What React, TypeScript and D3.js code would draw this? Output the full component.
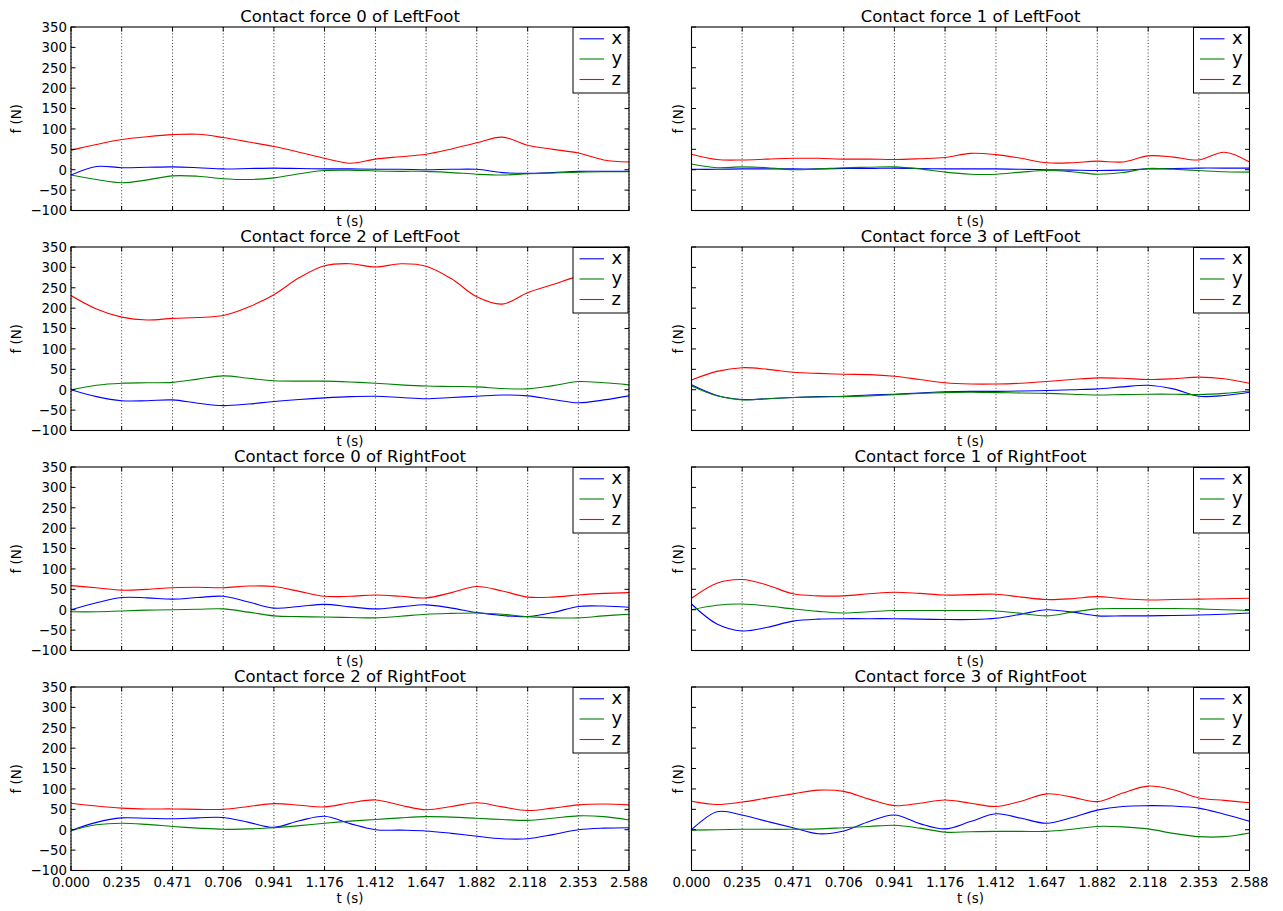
import React from 'react';
import * as d3 from 'd3';

// ---------------- data ----------------
const TIME = [0, 0.118, 0.235, 0.353, 0.471, 0.588, 0.706, 0.824, 0.941, 1.059, 1.176, 1.294, 1.412, 1.529, 1.647, 1.765, 1.882, 2.0, 2.118, 2.235, 2.353, 2.471, 2.588];
const T_MAX = 2.588;
const X_TICK_LABELS = ["0.000", "0.235", "0.471", "0.706", "0.941", "1.176", "1.412", "1.647", "1.882", "2.118", "2.353", "2.588"];
const Y_TICKS = [-100, -50, 0, 50, 100, 150, 200, 250, 300, 350];
const SERIES_NAMES = ["x", "y", "z"];
const SERIES_COLORS = ["#0000ff", "#008000", "#ff0000"];
const TITLES = [
  "Contact force 0 of LeftFoot", "Contact force 1 of LeftFoot",
  "Contact force 2 of LeftFoot", "Contact force 3 of LeftFoot",
  "Contact force 0 of RightFoot", "Contact force 1 of RightFoot",
  "Contact force 2 of RightFoot", "Contact force 3 of RightFoot",
];

const LF0_X = [-13, 8, 5, 6, 7, 5, 2, 3, 4, 3, 2, 2, 1, 1, 0, 1, 1, -7, -9, -7, -4, -4, -4];
const LF0_Y = [-13, -24, -32, -25, -15, -16, -22, -24, -20, -10, -2, -1, -3, -4, -4, -7, -11, -13, -10, -8, -6, -5, -5];
const LF0_Z = [48, 62, 74, 81, 86, 87, 79, 68, 57, 43, 28, 16, 26, 32, 38, 51, 66, 80, 60, 50, 41, 24, 19];

const LF1_X = [1, 1, 2, 2, 2, 2, 3, 3, 4, 3, 2, 2, 2, 1, 0, -1, -2, -1, 2, 3, 4, 4, 4];
const LF1_Y = [14, 5, 7, 5, 0, 2, 5, 6, 7, 2, -6, -11, -11, -6, -2, -5, -11, -7, 3, 1, -2, -5, -6];
const LF1_Z = [38, 25, 24, 26, 28, 28, 26, 26, 25, 27, 30, 40, 37, 28, 17, 17, 21, 19, 34, 31, 24, 43, 19];

const LF2_X = [0, -17, -27, -27, -25, -33, -39, -35, -29, -24, -20, -17, -16, -19, -22, -19, -16, -13, -15, -24, -32, -25, -15];
const LF2_Y = [0, 11, 16, 17, 18, 26, 34, 28, 22, 21, 21, 19, 16, 12, 9, 8, 7, 3, 2, 10, 20, 17, 12];
const LF2_Z = [231, 198, 178, 171, 175, 177, 182, 203, 233, 275, 304, 309, 301, 309, 303, 272, 228, 210, 238, 258, 278, 288, 295];

const LF3_X = [12, -14, -24, -22, -19, -17, -16, -13, -11, -8, -5, -4, -4, -3, -2, 0, 2, 7, 11, 2, -16, -14, -6];
const LF3_Y = [9, -15, -25, -22, -19, -18, -17, -15, -12, -9, -7, -6, -7, -8, -9, -11, -13, -12, -11, -11, -12, -9, -3];
const LF3_Z = [24, 45, 54, 50, 43, 40, 38, 37, 33, 25, 17, 14, 14, 16, 20, 25, 29, 28, 25, 27, 31, 27, 16];

const RF0_X = [0, 17, 30, 29, 26, 30, 33, 19, 4, 8, 13, 7, 2, 7, 12, 4, -7, -14, -17, -7, 8, 9, 6];
const RF0_Y = [-5, -5, -3, -1, 0, 1, 2, -6, -15, -17, -18, -19, -20, -16, -11, -9, -8, -11, -17, -20, -20, -15, -11];
const RF0_Z = [59, 54, 48, 50, 54, 55, 54, 58, 57, 45, 33, 33, 36, 33, 29, 42, 57, 46, 31, 31, 36, 40, 42];

const RF1_X = [14, -35, -52, -43, -28, -23, -22, -22, -22, -23, -24, -24, -21, -11, 0, -6, -15, -15, -15, -14, -13, -11, -8];
const RF1_Y = [0, 11, 14, 9, 2, -4, -8, -5, -2, -2, -2, -2, -3, -9, -15, -6, 2, 3, 3, 3, 2, 0, -2];
const RF1_Z = [28, 65, 74, 60, 39, 34, 34, 39, 43, 40, 36, 37, 38, 31, 25, 27, 32, 27, 24, 25, 26, 27, 28];

const RF2_X = [-2, 18, 29, 28, 27, 29, 30, 18, 6, 22, 33, 15, 0, -1, -3, -9, -16, -22, -22, -12, 0, 4, 5];
const RF2_Y = [-2, 12, 16, 13, 8, 4, 1, 2, 5, 10, 16, 21, 25, 29, 32, 31, 28, 25, 23, 28, 34, 32, 24];
const RF2_Z = [65, 58, 53, 51, 51, 50, 50, 57, 64, 60, 56, 66, 73, 60, 49, 57, 66, 56, 47, 53, 61, 63, 61];

const RF3_X = [0, 44, 36, 20, 5, -10, -3, 20, 36, 15, 2, 20, 39, 28, 16, 30, 48, 57, 59, 58, 53, 38, 21];
const RF3_Y = [-1, 0, 1, 1, 1, 2, 5, 8, 11, 4, -6, -5, -4, -4, -4, 1, 8, 7, 2, -9, -17, -17, -8];
const RF3_Z = [70, 62, 68, 78, 88, 97, 94, 75, 59, 65, 73, 65, 57, 70, 88, 80, 69, 90, 107, 98, 78, 72, 66];

const PANELS = [
  [LF0_X, LF0_Y, LF0_Z], [LF1_X, LF1_Y, LF1_Z],
  [LF2_X, LF2_Y, LF2_Z], [LF3_X, LF3_Y, LF3_Z],
  [RF0_X, RF0_Y, RF0_Z], [RF1_X, RF1_Y, RF1_Z],
  [RF2_X, RF2_Y, RF2_Z], [RF3_X, RF3_Y, RF3_Z],
];

// ---------------- layout ----------------
const WIDTH = 1283;
const HEIGHT = 911;
const COL_LEFT = [71, 691.5];
const ROW_TOP = [27, 247, 467, 687];
const AX_W = 558;
const AX_H = 183.5;
const FONT = "'DejaVu Sans', sans-serif";
const FS = 13.33;
const TITLE_FS = 16.5;
const LEGEND_FS = 18;

function Panel({ idx }: { idx: number }) {
  const col = idx % 2;
  const row = Math.floor(idx / 2);
  const x0 = COL_LEFT[col];
  const y0 = ROW_TOP[row];
  const xs = d3.scaleLinear().domain([0, T_MAX]).range([0, AX_W]);
  const ys = d3.scaleLinear().domain([-100, 350]).range([AX_H, 0]);
  const line = d3
    .line<number>()
    .x((_, i) => xs(TIME[i]))
    .y((v) => ys(v))
    .curve(d3.curveCatmullRom.alpha(0.5));
  const clipId = `clip-${idx}`;
  const xTicks = X_TICK_LABELS.map((l) => +l);
  const fmt = d3.format("d");
  const showY = col === 0;
  const showX = row === 3;
  const legW = 55;
  const legH = 65.5;
  const legX = AX_W - legW - 1;
  const legLineY = [11.8, 32, 52.5];
  return (
    <g transform={`translate(${x0},${y0})`}>
      <defs>
        <clipPath id={clipId}>
          <rect x={0} y={0} width={AX_W} height={AX_H} />
        </clipPath>
      </defs>
      <rect x={0} y={0} width={AX_W} height={AX_H} fill="#fff" />
      {/* grid */}
      {xTicks.map((t, i) => (
        <line key={`g${i}`} x1={xs(t)} x2={xs(t)} y1={0} y2={AX_H} stroke="#000" strokeWidth={0.8} strokeDasharray="1,2.2" />
      ))}
      {/* series */}
      <g clipPath={`url(#${clipId})`}>
        {PANELS[idx].map((vals, s) => (
          <path key={`s${s}`} d={line(vals) || ""} fill="none" stroke={SERIES_COLORS[s]} strokeWidth={1.1} />
        ))}
      </g>
      {/* ticks */}
      {Y_TICKS.map((v, i) => (
        <g key={`yt${i}`}>
          <line x1={0} x2={4.5} y1={ys(v)} y2={ys(v)} stroke="#000" strokeWidth={1} />
          <line x1={AX_W - 4.5} x2={AX_W} y1={ys(v)} y2={ys(v)} stroke="#000" strokeWidth={1} />
          {showY && (
            <text x={-4} y={ys(v)} dy="0.36em" textAnchor="end" fontFamily={FONT} fontSize={FS} fill="#000">
              {fmt(v)}
            </text>
          )}
        </g>
      ))}
      {xTicks.map((t, i) => (
        <g key={`xt${i}`}>
          <line x1={xs(t)} x2={xs(t)} y1={AX_H} y2={AX_H - 4.5} stroke="#000" strokeWidth={1} />
          <line x1={xs(t)} x2={xs(t)} y1={0} y2={4.5} stroke="#000" strokeWidth={1} />
          {showX && (
            <text x={xs(t)} y={AX_H + 16} textAnchor="middle" fontFamily={FONT} fontSize={FS} fill="#000">
              {X_TICK_LABELS[i]}
            </text>
          )}
        </g>
      ))}
      {/* spine */}
      <rect x={0} y={0} width={AX_W} height={AX_H} fill="none" stroke="#000" strokeWidth={1.1} />
      {/* title & labels */}
      <text x={AX_W / 2} y={-5.5} textAnchor="middle" fontFamily={FONT} fontSize={TITLE_FS} fill="#000">
        {TITLES[idx]}
      </text>
      <text x={AX_W / 2} y={showX ? AX_H + 32.5 : AX_H + 15} textAnchor="middle" fontFamily={FONT} fontSize={FS} fill="#000">
        t (s)
      </text>
      <text
        transform={`translate(${showY ? -50 : -8.5},${AX_H / 2}) rotate(-90)`}
        textAnchor="middle"
        fontFamily={FONT}
        fontSize={FS}
        fill="#000"
      >
        f (N)
      </text>
      {/* legend */}
      <g transform={`translate(${legX},0)`}>
        <rect x={0} y={0.5} width={legW} height={legH} fill="#fff" stroke="#000" strokeWidth={1} />
        {SERIES_NAMES.map((n, s) => (
          <g key={`l${s}`}>
            <line x1={6.5} x2={31} y1={legLineY[s]} y2={legLineY[s]} stroke={SERIES_COLORS[s]} strokeWidth={1.1} />
            <text x={38.5} y={legLineY[s] + 5} fontFamily={FONT} fontSize={LEGEND_FS} fill="#000">
              {n}
            </text>
          </g>
        ))}
      </g>
    </g>
  );
}

export default function App() {
  return (
    <svg
      width={WIDTH}
      height={HEIGHT}
      style={{ position: 'absolute', left: 0, top: 0, background: '#fff' }}
    >
      <rect x={0} y={0} width={WIDTH} height={HEIGHT} fill="#fff" />
      {TITLES.map((_, i) => (
        <Panel key={i} idx={i} />
      ))}
    </svg>
  );
}
